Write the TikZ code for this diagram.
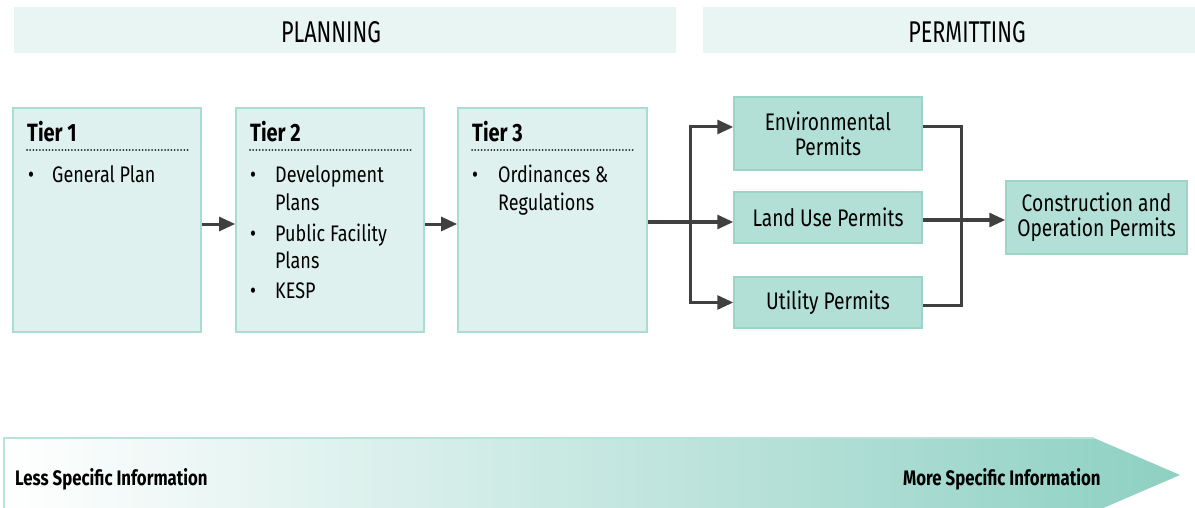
\documentclass[tikz,border=0pt]{standalone}
\usepackage{fontspec}
\setmainfont{Fira Sans}[FakeStretch=0.8]
\newfontfamily\hdrfont{Fira Sans}[FakeStretch=0.72]
\usetikzlibrary{arrows.meta}
\definecolor{tierfill}{HTML}{DFF1EE}
\definecolor{tierline}{HTML}{A9DDD3}
\definecolor{permfill}{HTML}{B2E0D6}
\definecolor{permline}{HTML}{9CD4C8}
\definecolor{hdrfill}{HTML}{E8F5F2}
\definecolor{arrowgray}{HTML}{404040}
\definecolor{gradend}{HTML}{8ED0C3}
\definecolor{gradline}{HTML}{B8E2DA}
\tikzset{
  tierbox/.style={draw=tierline, fill=tierfill, line width=1.8pt, inner sep=0pt},
  permbox/.style={draw=permline, fill=permfill, line width=1.5pt, inner sep=0pt,
    align=center, font=\fontsize{24}{25}\selectfont},
  hdrbar/.style={fill=hdrfill, inner sep=0pt},
  hdrtext/.style={inner sep=0pt, font=\hdrfont\fontsize{30}{32}\selectfont},
  tierhead/.style={inner sep=0pt, anchor=base west, font=\bfseries\fontsize{25}{28}\selectfont},
  bodytext/.style={inner sep=0pt, anchor=base west, font=\fontsize{22.5}{28}\selectfont},
  bul/.style={inner sep=0pt, anchor=base west, font=\fontsize{23}{28}\selectfont},
  dotrule/.style={line width=2pt, dash pattern=on 0.01pt off 3.2pt, line cap=round, color=black!85},
  conn/.style={draw=arrowgray, line width=3pt, -{Triangle[length=16pt,width=14pt]}},
  plainline/.style={draw=arrowgray, line width=3pt},
  infotext/.style={inner sep=0pt, anchor=base west, font=\bfseries\fontsize{21}{24}\selectfont}
}
\begin{document}
\begin{tikzpicture}[x=1pt,y=-1pt]
\useasboundingbox (0,0) rectangle (1195,508);
% header bars
\node[hdrbar, minimum width=662pt, minimum height=46pt] (hplan) at (345,30) {};
\node[hdrbar, minimum width=492pt, minimum height=46pt] (hperm) at (949,30) {};
\node[hdrtext] (hplantxt) at (331,32) {PLANNING};
\node[hdrtext] (hpermtxt) at (967,32) {PERMITTING};
% tier boxes
\node[tierbox, minimum width=188pt, minimum height=224pt] (t1) at (107,220) {};
\node[tierbox, minimum width=188pt, minimum height=224pt] (t2) at (330,220) {};
\node[tierbox, minimum width=189pt, minimum height=224pt] (t3) at (552.5,220) {};
% tier 1 text
\node[tierhead] (t1h) at (27,142) {Tier 1};
\draw[dotrule] (27,150) -- (188,150);
\node[bul] (t1b1) at (28,183) {\textbullet};
\node[bodytext] (t1l1) at (52,183) {General Plan};
% tier 2 text
\node[tierhead] (t2h) at (250,142) {Tier 2};
\draw[dotrule] (250,150) -- (411,150);
\node[bul] (t2b1) at (250,183) {\textbullet};
\node[bodytext] (t2l1) at (275,183) {Development};
\node[bodytext] (t2l1b) at (275,211) {Plans};
\node[bul] (t2b2) at (250,241) {\textbullet};
\node[bodytext] (t2l2) at (275,241) {Public Facility};
\node[bodytext] (t2l2b) at (275,269) {Plans};
\node[bul] (t2b3) at (250,298) {\textbullet};
\node[bodytext] (t2l3) at (275,298) {KESP};
% tier 3 text
\node[tierhead] (t3h) at (472,142) {Tier 3};
\draw[dotrule] (472,150) -- (635,150);
\node[bul] (t3b1) at (472,183) {\textbullet};
\node[bodytext] (t3l1) at (498,183) {Ordinances \&};
\node[bodytext] (t3l1b) at (498,211) {Regulations};
% permit boxes
\node[permbox, minimum width=188pt, minimum height=73pt] (env) at (828,133.5) {Environmental\\Permits};
\node[permbox, minimum width=188pt, minimum height=51pt] (land) at (828,217.5) {Land Use Permits};
\node[permbox, minimum width=188pt, minimum height=51pt] (util) at (828,302.5) {Utility Permits};
\node[permbox, minimum width=181pt, minimum height=73pt] (cons) at (1096.5,217.5) {Construction and\\Operation Permits};
% connectors
\draw[conn] ([yshift=-4pt]t1.east) -- ([yshift=-4pt]t2.west);
\draw[conn] ([yshift=-4pt]t2.east) -- ([yshift=-4pt]t3.west);
\coordinate (jl) at (690,222);
\coordinate (jr) at (961,220);
\draw[conn] (t3.east |- jl) -- (land.west |- jl);
\draw[conn] (jl) |- ([yshift=6.5pt]env.west);
\draw[conn] (jl) |- (util.west);
\draw[plainline] ([yshift=6.5pt]env.east) -| (jr) |- ([yshift=-3pt]util.east);
\draw[conn] (land.east |- jr) -- (cons.west |- jr);
% bottom gradient arrow
\shade[left color=white, right color=gradend] (4,438) -- (1094,438) -- (1180,475) -- (1094,512) -- (4,512) -- cycle;
\draw[gradline, line width=1.8pt] (4,512) -- (4,438) -- (1094,438);
\node[infotext] (less) at (15,485) {Less Specific Information};
\node[infotext] (more) at (903,485) {More Specific Information};
\end{tikzpicture}
\end{document}
